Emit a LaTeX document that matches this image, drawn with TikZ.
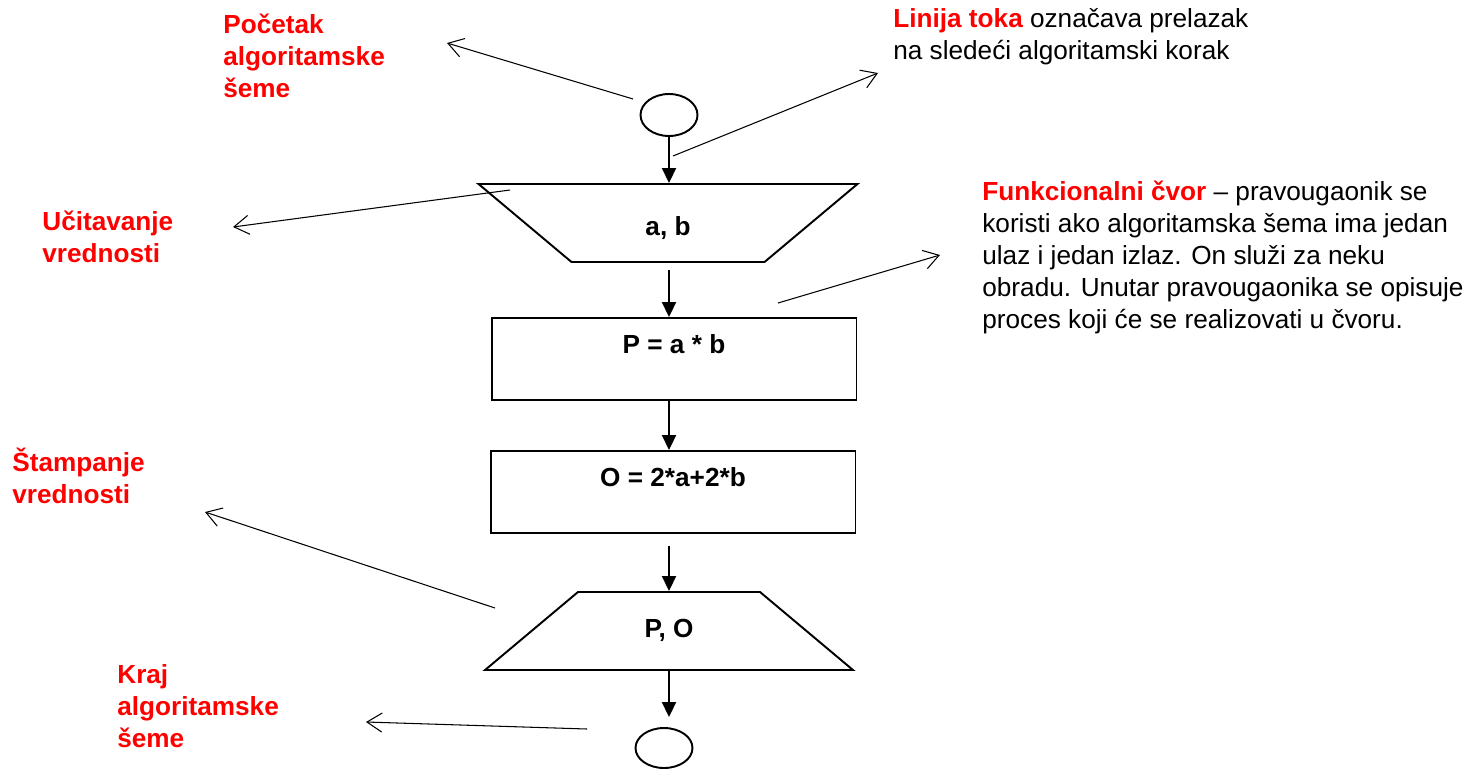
\documentclass[tikz,border=0pt]{standalone}
\usepackage{fontspec}
\setmainfont{Liberation Sans}
\usepackage{tikz}
\usetikzlibrary{shapes.geometric}
\usetikzlibrary{arrows.meta}
\usepackage{xcolor}
\definecolor{labelred}{RGB}{255,0,0}

\tikzset{
  terminal/.style={draw,ellipse,line width=1.1pt,minimum width=1.14cm,minimum height=0.84cm,inner sep=0pt},
  io/.style={draw,trapezium,trapezium angle=40,trapezium stretches body,line width=1.1pt,font=\bfseries,inner xsep=0pt},
  process/.style={draw,rectangle,line width=1.1pt,minimum width=7.3cm,minimum height=1.64cm,font=\bfseries,text height=0.2cm,text depth=0.44cm,inner sep=0pt},
  note/.style={font=\bfseries,text=labelred,align=left,anchor=base west,inner sep=0pt},
  remark/.style={align=left,anchor=base west,inner sep=0pt},
  flow/.style={line width=1.1pt,-{Triangle[length=0.3cm,width=0.28cm]}},
  pointer/.style={line width=0.6pt,-{Straight Barb[length=0.3cm,width=0.38cm]}}
}

\begin{document}
\fontsize{14.9pt}{18.1pt}\selectfont
\begin{tikzpicture}[x=0.02cm,y=-0.02cm]
   \useasboundingbox (0,0) rectangle (1469,768);
   % the scheme itself
   \node[terminal] (f_start) at (669,115) {};
   \node[io,shape border rotate=180,minimum width=7.58cm,text height=0.5cm,text depth=0.02cm,inner ysep=0.52cm] (f_in) at (668,223) {a, b};
   \node[process] (f_area) at (674,359) {P = a * b};
   \node[process] (f_perim) at (673,492) {O = 2*a+2*b};
   \node[io,minimum width=7.36cm,text height=0.36cm,text depth=0.1cm,inner ysep=0.55cm] (f_out) at (669,631) {P, O};
   \node[terminal,minimum height=0.8cm] (f_end) at (664,748) {};
    \path[flow]
    (f_start.south) edge (f_in.north -| f_start)
    (f_in.south -| f_start) edge[shorten <=0.14cm] (f_area.north -| f_start)
    (f_area.south -| f_start) edge (f_perim.north -| f_start)
    (f_perim.south -| f_start) edge[shorten <=0.24cm] (f_out.north -| f_start)
    (f_out.south -| f_start) edge[shorten >=0.2cm] (f_end.north -| f_start);

   % explanations (placed at the baseline of their last line)
   \node[note] (n_start) at (223,97) {Početak\\algoritamske\\šeme};
   \node[note] (n_read) at (42,262) {Učitavanje\\vrednosti};
   \node[note] (n_print) at (12,503) {Štampanje\\vrednosti};
   \node[note] (n_end) at (117,747) {Kraj\\algoritamske\\šeme};
   \node[remark] (n_flow) at (893,59) {\textcolor{labelred}{\bfseries Linija toka} označava prelazak\\na sledeći algoritamski korak};
   \node[remark] (n_proc) at (982,328) {\textcolor{labelred}{\bfseries Funkcionalni čvor} -- pravougaonik se\\koristi ako algoritamska šema ima jedan\\ulaz i jedan izlaz. On služi za neku\\obradu. Unutar pravougaonika se opisuje\\proces koji će se realizovati u čvoru.};

   \coordinate (t_start) at (633,99);  \coordinate (h_start) at (447,43);
   \coordinate (t_flow) at (673,156);  \coordinate (h_flow) at (878,73);
   \coordinate (t_read) at (510,190);  \coordinate (h_read) at (233,227);
   \coordinate (t_proc) at (778,303);  \coordinate (h_proc) at (940,255);
   \coordinate (t_print) at (495,608); \coordinate (h_print) at (205,512);
   \coordinate (t_end) at (587,729);   \coordinate (h_end) at (366,722);
    \path[pointer]
    (t_start) edge (h_start)
    (t_flow) edge (h_flow)
    (t_read) edge (h_read)
    (t_proc) edge (h_proc)
    (t_print) edge (h_print)
    (t_end) edge (h_end);
\end{tikzpicture}
\end{document}
